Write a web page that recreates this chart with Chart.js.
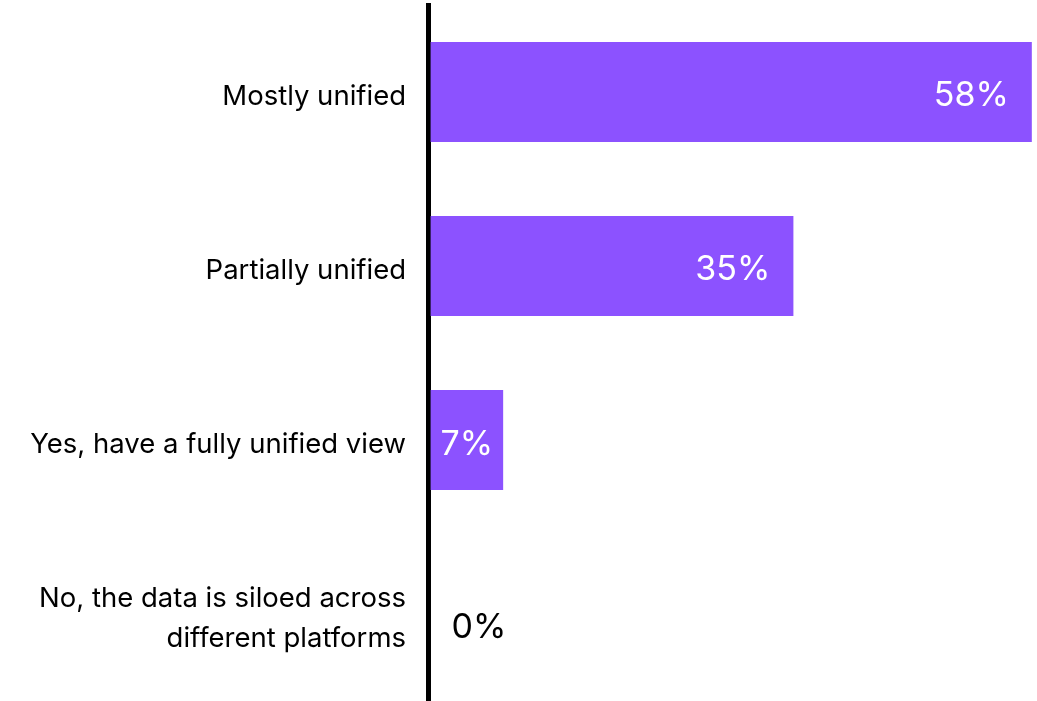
<!DOCTYPE html>
<html>
<head>
<meta charset="utf-8">
<script src="https://cdn.jsdelivr.net/npm/chart.js@4/dist/chart.umd.min.js"></script>
<style>
  html, body { margin: 0; padding: 0; background: #ffffff; }
  #wrap { width: 1037px; height: 701px; position: relative; }
</style>
</head>
<body>
<div id="wrap"><canvas id="chart"></canvas></div>
<script>
// Survey answers (top to bottom) and their shares in percent
const categories = [
  'Mostly unified',
  'Partially unified',
  'Yes, have a fully unified view',
  ['No, the data is siloed across', 'different platforms']
];
const shares = [58, 35, 7, 0];

const barColor = '#8c52ff';
const fontFamily = 'Inter, "Noto Sans", sans-serif';

// Percentage labels: inside the bar's end when there is room,
// centred in short bars, and in black beside empty bars.
const valueLabels = {
  id: 'valueLabels',
  afterDatasetsDraw(chart) {
    const ctx = chart.ctx;
    const meta = chart.getDatasetMeta(0);
    ctx.save();
    ctx.font = '400 34px ' + fontFamily;
    ctx.textBaseline = 'middle';
    meta.data.forEach((bar, i) => {
      const v = shares[i];
      const text = v + '%';
      const w = ctx.measureText(text).width;
      const left = Math.min(bar.x, bar.base);
      const right = Math.max(bar.x, bar.base);
      const len = right - left;
      if (v > 0 && len > w + 48) {
        ctx.fillStyle = '#ffffff';
        ctx.textAlign = 'right';
        ctx.fillText(text, right - 23, bar.y + 4);
      } else if (v > 0) {
        ctx.fillStyle = '#ffffff';
        ctx.textAlign = 'center';
        ctx.fillText(text, (left + right) / 2, bar.y + 5);
      } else {
        ctx.fillStyle = '#000000';
        ctx.textAlign = 'left';
        ctx.fillText(text, right + 21, bar.y + 14);
      }
    });
    ctx.restore();
  }
};

new Chart(document.getElementById('chart'), {
  type: 'bar',
  data: {
    labels: categories,
    datasets: [{
      data: shares,
      backgroundColor: shares.map(v => (v > 0 ? barColor : 'rgba(0,0,0,0)')),
      borderWidth: 0,
      inflateAmount: 0,
      barThickness: 100
    }]
  },
  options: {
    indexAxis: 'y',
    responsive: true,
    maintainAspectRatio: false,
    animation: false,
    layout: { padding: { top: 5, bottom: 0, left: 0, right: 0 } },
    plugins: {
      legend: { display: false },
      tooltip: { enabled: false }
    },
    scales: {
      x: {
        display: false,
        min: -0.25,
        max: 58.5
      },
      y: {
        grid: { display: false, drawTicks: false },
        border: { display: true, width: 5, color: '#000000' },
        ticks: {
          color: '#000000',
          padding: 22,
          labelOffset: 5,
          font: { family: fontFamily, size: 27.5, lineHeight: 1.45 }
        },
        // fixed gutter for the category names; no extra space above/below
        afterFit(scale) {
          scale.width = 428;
          scale.paddingTop = 0;
          scale.paddingBottom = 0;
        }
      }
    }
  },
  plugins: [valueLabels]
});
</script>
</body>
</html>
